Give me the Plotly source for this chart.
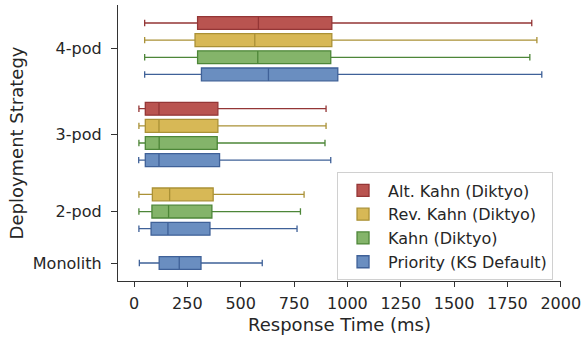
import plotly.graph_objects as go

# Deployment strategies, bottom to top
strategies = ["Monolith", "2-pod", "3-pod", "4-pod"]

# Schedulers (legend order)
schedulers = ["Alt. Kahn (Diktyo)", "Rev. Kahn (Diktyo)", "Kahn (Diktyo)", "Priority (KS Default)"]

# Box statistics of response time (ms) per scheduler, one value per strategy
# (None where the scheduler was not evaluated for that strategy)
lower_fence = {
    "Alt. Kahn (Diktyo)":    [None, None, 23, 50],
    "Rev. Kahn (Diktyo)":    [None, 23, 23, 50],
    "Kahn (Diktyo)":         [None, 23, 23, 50],
    "Priority (KS Default)": [25, 23, 22, 50],
}
q1 = {
    "Alt. Kahn (Diktyo)":    [None, None, 53, 298],
    "Rev. Kahn (Diktyo)":    [None, 86, 53, 286],
    "Kahn (Diktyo)":         [None, 84, 53, 298],
    "Priority (KS Default)": [118, 80, 53, 316],
}
median = {
    "Alt. Kahn (Diktyo)":    [None, None, 117, 583],
    "Rev. Kahn (Diktyo)":    [None, 167, 117, 566],
    "Kahn (Diktyo)":         [None, 162, 118, 580],
    "Priority (KS Default)": [212, 159, 117, 630],
}
q3 = {
    "Alt. Kahn (Diktyo)":    [None, None, 393, 927],
    "Rev. Kahn (Diktyo)":    [None, 371, 393, 927],
    "Kahn (Diktyo)":         [None, 365, 390, 922],
    "Priority (KS Default)": [314, 356, 401, 955],
}
upper_fence = {
    "Alt. Kahn (Diktyo)":    [None, None, 900, 1864],
    "Rev. Kahn (Diktyo)":    [None, 797, 900, 1888],
    "Kahn (Diktyo)":         [None, 780, 895, 1855],
    "Priority (KS Default)": [601, 764, 922, 1911],
}

x_ticks = [0, 250, 500, 750, 1000, 1250, 1500, 1750, 2000]

fill_colors = {
    "Alt. Kahn (Diktyo)":    "#B95450",
    "Rev. Kahn (Diktyo)":    "#D7B856",
    "Kahn (Diktyo)":         "#84B46A",
    "Priority (KS Default)": "#6A8EC0",
}
edge_colors = {
    "Alt. Kahn (Diktyo)":    "#943636",
    "Rev. Kahn (Diktyo)":    "#AA9136",
    "Kahn (Diktyo)":         "#4D8638",
    "Priority (KS Default)": "#3F6198",
}

# Assign a vertical slot to each box: within a strategy, boxes are stacked in
# reverse legend order (Priority lowest), with one empty slot between strategies.
slot = {}
centers = []
pos = 0
for si, strat in enumerate(strategies):
    present = [s for s in reversed(schedulers) if median[s][si] is not None]
    start = pos
    for s in present:
        slot[(s, si)] = pos
        pos += 1
    centers.append((start + pos - 1) / 2)
    pos += 1
top_slot = pos - 2

fig = go.Figure()
for s in schedulers:
    idx = [i for i in range(len(strategies)) if median[s][i] is not None]
    fig.add_trace(go.Box(
        name=s,
        orientation="h",
        y=[slot[(s, i)] for i in idx],
        q1=[q1[s][i] for i in idx],
        median=[median[s][i] for i in idx],
        q3=[q3[s][i] for i in idx],
        lowerfence=[lower_fence[s][i] for i in idx],
        upperfence=[upper_fence[s][i] for i in idx],
        fillcolor=fill_colors[s],
        line=dict(color=edge_colors[s], width=1.3),
        width=0.75,
        whiskerwidth=0.5,
        boxpoints=False,
        hoverinfo="x",
    ))

axis_color = "#333333"
text_color = "#262626"
font_family = "DejaVu Sans"

fig.update_layout(
    width=581, height=339,
    margin=dict(l=118, r=20, t=5, b=58),
    paper_bgcolor="white", plot_bgcolor="white",
    boxmode="overlay",
    font=dict(family=font_family, color=text_color, size=16),
    showlegend=True,
    legend=dict(
        x=0.982, xanchor="right", y=0.002, yanchor="bottom",
        bgcolor="white", bordercolor="#D0D0D0", borderwidth=1,
        font=dict(size=16, family=font_family, color=text_color),
        traceorder="normal", itemwidth=40, tracegroupgap=2,
    ),
    xaxis=dict(
        range=[-75, 2001], tickvals=x_ticks, ticktext=[str(v) for v in x_ticks],
        showgrid=False, zeroline=False,
        showline=True, linecolor=axis_color, linewidth=1.3,
        ticks="outside", ticklen=5, tickwidth=1.3, tickcolor=axis_color,
        tickfont=dict(size=16), ticklabelstandoff=3, ticklabeloverflow="allow",
        title=dict(text="Response Time (ms)", font=dict(size=18), standoff=6),
        automargin=False,
    ),
    yaxis=dict(
        range=[-1.05, top_slot + 1.05], tickvals=centers, ticktext=strategies,
        showgrid=False, zeroline=False,
        showline=True, linecolor=axis_color, linewidth=1.3,
        ticks="outside", ticklen=6, tickwidth=1.3, tickcolor=axis_color,
        tickfont=dict(size=16), ticklabelstandoff=6,
        title=dict(text="Deployment Strategy", font=dict(size=18), standoff=4),
        automargin=False,
    ),
)

fig.write_html("out.html")
